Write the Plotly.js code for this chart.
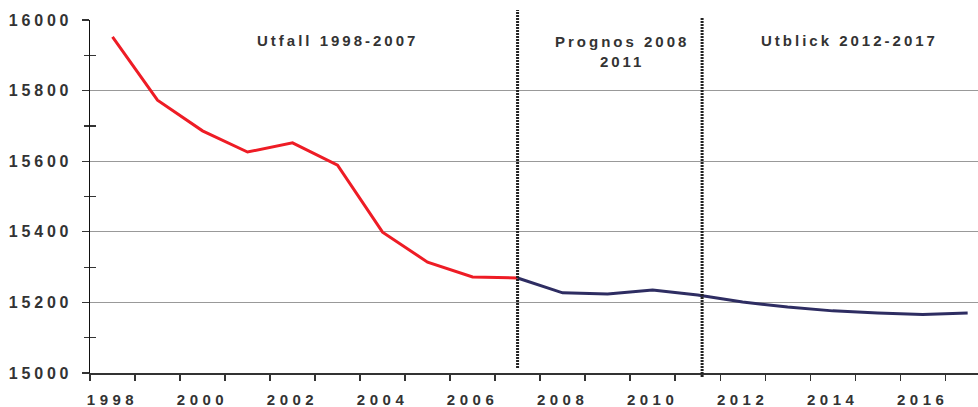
<!DOCTYPE html>
<html>
<head>
<meta charset="utf-8">
<script src="https://cdn.plot.ly/plotly-3.0.1.min.js"></script>
<style>
html,body{margin:0;padding:0;background:#fff;}
#chart{width:978px;height:407px;}
.xtick text{letter-spacing:4.5px;}
.ytick text{letter-spacing:3.8px;}
.annotation-text{letter-spacing:3px;}
</style>
</head>
<body>
<div id="chart"></div>
<script>
const outcomeYears = [1998,1999,2000,2001,2002,2003,2004,2005,2006,2007];
const outcomeValues = [15952,15773,15686,15626,15652,15589,15399,15314,15272,15269];
const forecastYears = [2007,2008,2009,2010,2011,2012,2013,2014,2015,2016,2017];
const forecastValues = [15269,15227,15224,15235,15221,15201,15187,15176,15170,15166,15170];
const periodLabels = ["Utfall 1998-2007","Prognos 2008<br>2011","Utblick 2012-2017"];
const periodDividers = [2007, 2011.1];
const minorYTicks = [15100,15300,15500,15700,15900];

const font = {family:"Liberation Sans, Arial, sans-serif", size:15, color:"#333333"};
const boldFont = {family:font.family, size:15, color:"#333333", weight:"bold"};

const traces = [
  {x:outcomeYears, y:outcomeValues, type:"scatter", mode:"lines",
   line:{color:"#ee1c25", width:3}, hoverinfo:"skip"},
  {x:forecastYears, y:forecastValues, type:"scatter", mode:"lines",
   line:{color:"#2e2d62", width:3}, hoverinfo:"skip"},
  {x:[1998], y:[15500], yaxis:"y2", type:"scatter", mode:"none", hoverinfo:"skip"}
];

const layout = {
  width:978, height:407,
  margin:{l:90, r:0, t:20, b:34},
  paper_bgcolor:"#ffffff", plot_bgcolor:"#ffffff",
  showlegend:false,
  font:font,
  xaxis:{
    range:[1997.5, 2017.23], tickmode:"linear", tick0:1998, dtick:2,
    tickformat:"d",
    ticks:"", showgrid:false, zeroline:false,
    showline:true, linecolor:"#333333", linewidth:1.5,
    tickfont:boldFont,
    ticklabelstandoff:12,
    minor:{tick0:1997.5, dtick:1, ticks:"outside", ticklen:6, tickcolor:"#333333", tickwidth:1.2, showgrid:false}
  },
  yaxis:{
    range:[15000,16000], tickmode:"linear", tick0:15000, dtick:200,
    tickformat:"d", separatethousands:false,
    ticks:"outside", ticklen:7, tickcolor:"#333333", tickwidth:1.2,
    showgrid:true, gridcolor:"#999999", gridwidth:1,
    zeroline:false, showline:true, linecolor:"#111111", linewidth:1.5,
    tickfont:{family:font.family, size:16, color:"#333333", weight:"bold"},
    ticklabelstandoff:6,
    minor:{dtick:100, ticks:"outside", ticklen:5, tickcolor:"#333333", tickwidth:1.2, showgrid:false}
  },
  yaxis2:{
    overlaying:"y", anchor:"x", side:"left", range:[15000,16000],
    tickmode:"array", tickvals:minorYTicks, ticks:"inside", ticklen:6,
    tickcolor:"#333333", tickwidth:1.2, showticklabels:false,
    showgrid:false, zeroline:false, showline:false
  },
  shapes:[
    {type:"line", xref:"x", yref:"paper", x0:periodDividers[0], x1:periodDividers[0], y0:0.014, y1:1.028,
     line:{color:"#222222", width:3, dash:"2px,1px"}},
    {type:"line", xref:"x", yref:"paper", x0:periodDividers[1], x1:periodDividers[1], y0:-0.011, y1:1.008,
     line:{color:"#222222", width:3, dash:"2px,1px"}}
  ],
  annotations:[
    {x:2003, y:0.943, xref:"x", yref:"paper", yanchor:"middle", xanchor:"center", text:periodLabels[0], showarrow:false, font:boldFont},
    {x:2009.33, y:0.912, xref:"x", yref:"paper", yanchor:"middle", xanchor:"center", text:periodLabels[1], showarrow:false, font:boldFont},
    {x:2014.38, y:0.943, xref:"x", yref:"paper", yanchor:"middle", xanchor:"center", text:periodLabels[2], showarrow:false, font:boldFont}
  ]
};

Plotly.newPlot("chart", traces, layout, {staticPlot:true, displayModeBar:false});
</script>
</body>
</html>
